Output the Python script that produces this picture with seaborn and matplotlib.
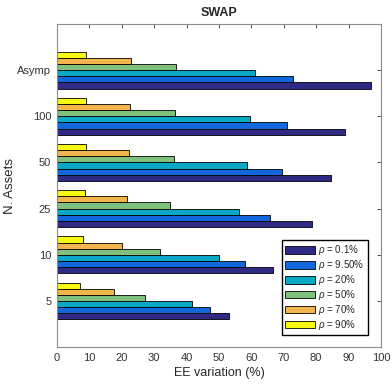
import numpy as np
import matplotlib
matplotlib.use("Agg")
import matplotlib.pyplot as plt
import seaborn as sns
import pandas as pd

assets = ['5', '10', '25', '50', '100', 'Asymp']
rhos = ['0.1%', '9.50%', '20%', '50%', '70%', '90%']
colors = ['#2e2a86', '#1167db', '#0aa8c4', '#7fc07c', '#f2b54b', '#f8f812']

# EE variation (%) per rho, one value per asset group (5 .. Asymp)
ee_01 = [53.2, 66.6, 78.7, 84.5, 88.9, 97.0]
ee_95 = [47.1, 57.9, 65.8, 69.4, 71.1, 73.0]
ee_20 = [41.6, 50.1, 56.1, 58.6, 59.7, 61.0]
ee_50 = [27.3, 31.9, 34.9, 36.0, 36.5, 36.8]
ee_70 = [17.5, 20.2, 21.7, 22.3, 22.5, 22.9]
ee_90 = [7.2, 8.0, 8.8, 9.0, 9.0, 9.0]

series = [ee_01, ee_95, ee_20, ee_50, ee_70, ee_90]
rows = []
for rho, vals in zip(rhos, series):
    for a, v in zip(assets, vals):
        rows.append({'assets': a, 'rho': rho, 'ee': v})
df = pd.DataFrame(rows)

sns.set_style('white')
plt.rcParams['font.family'] = ['Liberation Sans', 'DejaVu Sans']
plt.rcParams['mathtext.fontset'] = 'custom'
plt.rcParams['mathtext.it'] = 'Liberation Sans:italic'

fig = plt.figure(figsize=(3.92, 3.84), dpi=100)
ax = fig.add_axes([0.145, 0.096, 0.827, 0.8415])

sns.barplot(data=df, x='ee', y='assets', hue='rho', order=assets, hue_order=rhos,
            palette=colors, orient='h', width=0.8, edgecolor='black', linewidth=0.6,
            saturation=1, ax=ax)

ax.set_ylim(-1, 6)
ax.set_xlim(0, 100)
ax.set_xticks(np.arange(0, 101, 10))
ax.set_title('SWAP', fontsize=9, fontweight='bold', pad=6)
ax.set_xlabel('EE variation (%)', fontsize=9, color='#262626', labelpad=3)
ax.set_ylabel('N. Assets', fontsize=9.5, color='#262626', labelpad=1)
ax.tick_params(axis='both', labelsize=8, colors='#333333', direction='in',
               length=3, top=True, right=True, width=0.6, pad=4)
for s in ax.spines.values():
    s.set_visible(True)
    s.set_color('#8c8c8c')
    s.set_linewidth(0.8)

handles, labels = ax.get_legend_handles_labels()
labels = [r'$\rho$ = ' + r for r in rhos]
ax.legend(handles, labels, loc='lower right', bbox_to_anchor=(0.965, 0.03),
          fontsize=7, frameon=True, fancybox=False, edgecolor='black',
          handlelength=3.1, handleheight=0.8, labelspacing=0.1,
          borderpad=0.35, handletextpad=0.3, borderaxespad=0.2, framealpha=1)

fig.savefig('out.png', dpi=100)
